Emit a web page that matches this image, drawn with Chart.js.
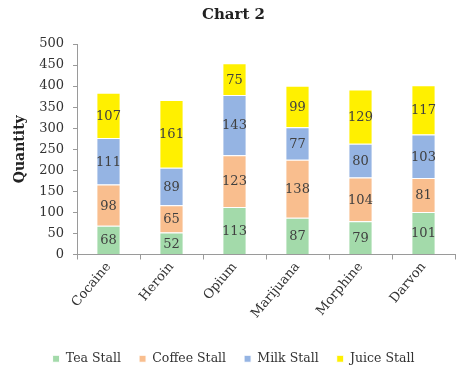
<!DOCTYPE html>
<html><head><meta charset="utf-8">
<script src="https://cdn.jsdelivr.net/npm/chart.js@4.4.1/dist/chart.umd.min.js"></script>
<style>html,body{margin:0;padding:0;background:#fff}#wrap{width:467px;height:377px}</style>
</head><body><div id="wrap"><canvas id="c" width="467" height="377"></canvas></div>
<script>
const categories = ["Cocaine","Heroin","Opium","Marijuana","Morphine","Darvon"];
const teaStall = [68,52,113,87,79,101];
const coffeeStall = [98,65,123,138,104,81];
const milkStall = [111,89,143,77,80,103];
const juiceStall = [107,161,75,99,129,117];
const yTicks = [0,50,100,150,200,250,300,350,400,450,500];

const FONT = "'DejaVu Serif', serif";
const labelPlugin = {
  id: 'segLabels',
  afterDatasetsDraw(chart) {
    const ctx = chart.ctx;
    ctx.save();
    ctx.font = "13px " + FONT;
    ctx.fillStyle = "#404040";
    ctx.textAlign = "center";
    ctx.textBaseline = "middle";
    chart.data.datasets.forEach((ds, i) => {
      const meta = chart.getDatasetMeta(i);
      meta.data.forEach((bar, j) => {
        const y = (bar.y + bar.base) / 2;
        ctx.fillText(String(ds.data[j]), bar.x, y + 1);
      });
    });
    ctx.restore();
  }
};

new Chart(document.getElementById('c'), {
  type: 'bar',
  data: {
    labels: categories,
    datasets: [
      {label: "Tea Stall", data: teaStall, backgroundColor: "#A3DAAA"},
      {label: "Coffee Stall", data: coffeeStall, backgroundColor: "#F9BE8E"},
      {label: "Milk Stall", data: milkStall, backgroundColor: "#95B4E3"},
      {label: "Juice Stall", data: juiceStall, backgroundColor: "#FFF000"}
    ].map(d => Object.assign(d, {borderColor: "#ffffff", borderWidth: 1, categoryPercentage: 0.8, barPercentage: 0.48}))
  },
  options: {
    responsive: false,
    animation: false,
    devicePixelRatio: 1,
    layout: {padding: {left: 12, right: 12, top: 4, bottom: 2}},
    plugins: {
      title: {display: true, text: "Chart 2", color: "#222", font: {family: FONT, size: 15, weight: 'bold'}, padding: {top: 2, bottom: 20}},
      legend: {position: 'bottom', labels: {boxWidth: 7, boxHeight: 7, color: "#333", font: {family: FONT, size: 12.5}, padding: 18}},
      tooltip: {enabled: false}
    },
    scales: {
      x: {
        stacked: true,
        afterFit(scale) { scale.height = 80; },
        border: {color: "#9a9a9a", width: 1},
        grid: {display: true, drawOnChartArea: false, drawTicks: true, tickLength: 5, offset: true, color: "#9a9a9a"},
        ticks: {minRotation: 50, maxRotation: 50, color: "#333", font: {family: FONT, size: 13}, padding: 0}
      },
      y: {
        stacked: true, min: 0, max: 500,
        afterBuildTicks(scale) { scale.ticks = yTicks.map(v => ({value: v})); },
        afterFit(scale) { scale.width = 65; },
        border: {color: "#9a9a9a", width: 1},
        grid: {display: true, drawOnChartArea: false, drawTicks: true, tickLength: 4, color: "#9a9a9a"},
        ticks: {color: "#333", font: {family: FONT, size: 13}, padding: 9},
        title: {display: true, text: "Quantity", color: "#222", font: {family: FONT, size: 14, weight: 'bold'}, padding: {top: 0, bottom: 4}}
      }
    }
  },
  plugins: [labelPlugin]
});
</script></body></html>
